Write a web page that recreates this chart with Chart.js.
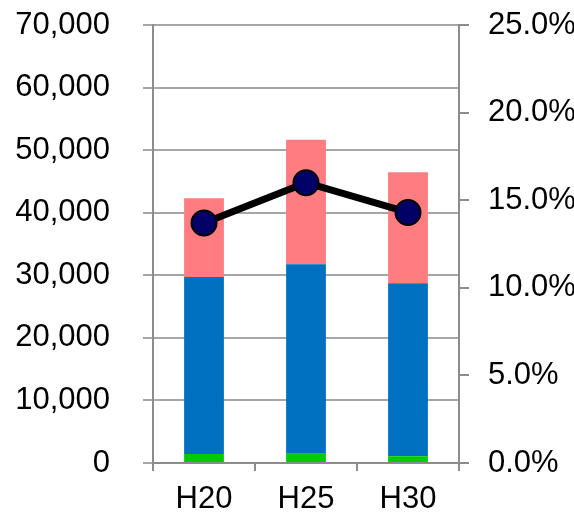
<!DOCTYPE html>
<html>
<head>
<meta charset="utf-8">
<script src="https://cdn.jsdelivr.net/npm/chart.js@4"></script>
<style>
  html, body { margin: 0; padding: 0; background: #fff; }
  canvas { display: block; }
</style>
</head>
<body>
<canvas id="chart" width="574" height="517"></canvas>
<script>
// ===== データ =====
const labels = ['H20', 'H25', 'H30'];
const greenValues = [1440, 1490, 1070];
const blueValues = [28280, 30260, 27640];
const pinkValues = [12580, 19910, 17740];
const rateValues = [0.137, 0.160, 0.143];

const leftTicks = [0, 10000, 20000, 30000, 40000, 50000, 60000, 70000];
const rightTicks = [0, 0.05, 0.10, 0.15, 0.20, 0.25];

const FONT = { family: '"Liberation Sans", Arial, sans-serif', size: 31 };
const GRID = '#A6A6A6';
const AXIS = '#8C8C8C';

const ctx = document.getElementById('chart').getContext('2d');

// 縦軸の幅と余白を固定する
function fixVertical(width) {
    return (s) => {
        s.width = width;
        s.paddingTop = 0;
        s.paddingBottom = 0;
    };
}

new Chart(ctx, {
    type: 'bar',
    data: {
        labels: labels,
        datasets: [
            {
                type: 'line',
                data: rateValues,
                yAxisID: 'y1',
                borderColor: '#000000',
                borderWidth: 7,
                pointRadius: 12.5,
                pointBackgroundColor: '#000066',
                pointBorderColor: '#000000',
                pointBorderWidth: 2,
                order: 0
            },
            {
                data: greenValues,
                backgroundColor: '#00CC00',
                stack: 's',
                order: 1
            },
            {
                data: blueValues,
                backgroundColor: '#0070C0',
                stack: 's',
                order: 1
            },
            {
                data: pinkValues,
                backgroundColor: '#FF7C80',
                stack: 's',
                order: 1
            }
        ]
    },
    options: {
        responsive: false,
        animation: false,
        layout: { padding: { top: 25, right: 0, left: 0, bottom: 0 } },
        barPercentage: 0.39,
        categoryPercentage: 1.0,
        plugins: {
            legend: { display: false },
            tooltip: { enabled: false }
        },
        scales: {
            x: {
                stacked: true,
                grid: {
                    offset: true,
                    drawOnChartArea: false,
                    color: AXIS,
                    lineWidth: 2,
                    tickLength: 8
                },
                border: { color: AXIS, width: 2 },
                ticks: { color: '#000', font: FONT, padding: 10 },
                afterFit: (s) => { s.height = 54; s.paddingLeft = 0; s.paddingRight = 0; }
            },
            y: {
                stacked: true,
                position: 'left',
                min: 0,
                max: 70000,
                afterBuildTicks: (s) => { s.ticks = leftTicks.map(v => ({ value: v })); },
                grid: { color: GRID, lineWidth: 2, tickLength: 10 },
                border: { color: AXIS, width: 2 },
                ticks: {
                    color: '#000',
                    font: FONT,
                    padding: 33,
                    callback: (v) => v.toLocaleString('en-US')
                },
                afterFit: fixVertical(153)
            },
            y1: {
                position: 'right',
                min: 0,
                max: 0.25,
                afterBuildTicks: (s) => { s.ticks = rightTicks.map(v => ({ value: v })); },
                grid: { drawOnChartArea: false, color: AXIS, lineWidth: 2, tickLength: 10 },
                border: { color: AXIS, width: 2 },
                ticks: {
                    color: '#000',
                    font: FONT,
                    padding: 19,
                    callback: (v) => (v * 100).toFixed(1) + '%'
                },
                afterFit: fixVertical(115)
            }
        }
    }
});
</script>
</body>
</html>
